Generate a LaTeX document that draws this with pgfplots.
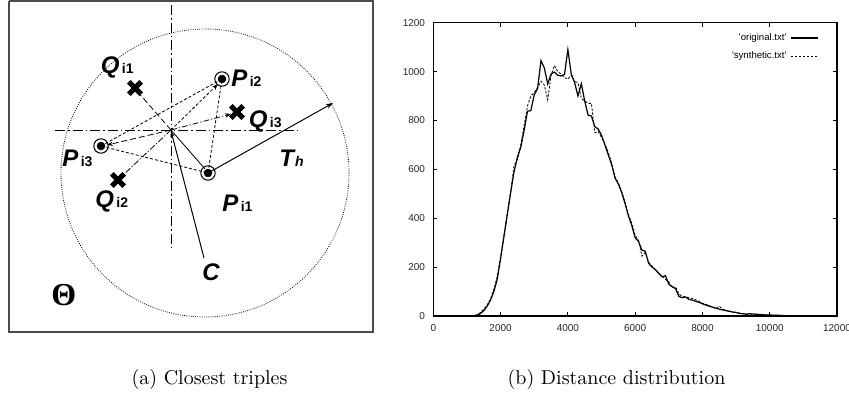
\documentclass[border=0pt]{standalone}
\usepackage{fontspec}
\usepackage{pgfplots}
\usepackage{pgfplotstable}
\pgfplotsset{compat=1.18}
\usetikzlibrary{arrows.meta}
\newfontfamily\arial{Liberation Sans}
\newfontfamily\serifgreek{Liberation Serif}
\newcommand\lab{\arial\bfseries\itshape\fontsize{12}{13}\selectfont}
\newcommand\sub[1]{\hspace{1.2pt}{\upshape\fontsize{7}{8}\selectfont #1}}

% distance histograms, bins of 100
\pgfplotstableread{
x y
1000 0
1100 0
1200 1
1300 3
1400 10
1500 22
1600 40
1700 65
1800 100
1900 150
2000 235
2100 325
2200 415
2300 505
2400 590
2500 650
2600 690
2700 760
2800 838
2900 840
3000 905
3100 930
3200 1045
3300 1015
3400 950
3500 990
3600 998
3700 985
3800 982
3900 988
4000 1090
4100 990
4200 955
4300 900
4400 950
4500 880
4600 822
4700 818
4800 775
4900 765
5000 740
5100 700
5200 660
5300 620
5400 565
5500 540
5600 505
5700 460
5800 410
5900 370
6000 320
6100 305
6200 270
6300 265
6400 215
6500 200
6600 190
6700 175
6800 160
6900 165
7000 130
7100 120
7200 112
7300 80
7400 75
7500 78
7600 68
7700 65
7800 60
7900 56
8000 50
8100 45
8200 40
8300 36
8400 32
8500 28
8600 25
8700 22
8800 19
8900 16
9000 14
9100 11
9200 9
9300 8
9400 9
9500 8
9600 7
9700 6
9800 5
9900 4
10000 4
10200 3
10400 2
10600 1
10800 1
11000 0
}\original

\pgfplotstableread{
x y
1000 0
1100 1
1200 2
1300 5
1400 14
1500 28
1600 45
1700 70
1800 108
1900 162
2000 242
2100 332
2200 422
2300 512
2400 615
2500 640
2600 700
2700 780
2800 860
2900 900
3000 915
3100 935
3200 960
3300 945
3400 885
3500 985
3600 1025
3700 1000
3800 990
3900 975
4000 970
4100 985
4200 960
4300 955
4400 890
4500 880
4600 870
4700 870
4800 750
4900 755
5000 730
5100 705
5200 670
5300 625
5400 570
5500 545
5600 510
5700 465
5800 415
5900 380
6000 330
6100 310
6200 245
6300 260
6400 220
6500 205
6600 190
6700 172
6800 165
6900 150
7000 140
7100 115
7200 120
7300 90
7400 80
7500 78
7600 75
7700 72
7800 66
7900 60
8000 52
8100 48
8200 42
8300 38
8400 30
8500 40
8600 28
8700 24
8800 20
8900 17
9000 15
9100 12
9200 10
9300 6
9400 9
9500 7
9600 8
9700 6
9800 5
9900 4
10000 3
10200 3
10400 2
10600 2
10800 1
11000 1
}\synthetic

\begin{document}
\begin{tikzpicture}
\useasboundingbox (0pt,0pt) rectangle (424.5pt,200.5pt);

% panel (a): sketch drawn in pixel units of the page
\begin{axis}[
    at={(0pt,0pt)}, anchor=south west,
    width=424.5pt, height=200.5pt, scale only axis,
    xmin=0, xmax=849, ymin=0, ymax=401, y dir=reverse,
    hide axis, clip=false,
]
% frame
\addplot[gray!60!black, line width=0.7pt] coordinates {(9,1) (373,1) (373,332) (9,332) (9,1)};
% threshold circle
\draw[line width=0.4pt, dash pattern=on 0.4pt off 0.7pt] (axis cs:205,173) circle[radius=72pt];
% cross hair through C
\addplot[line width=0.5pt, dash pattern=on 5pt off 1.5pt on 0.8pt off 1.5pt] coordinates {(171,5) (171,248)};
\addplot[line width=0.5pt, dash pattern=on 5pt off 1.5pt on 0.8pt off 1.5pt] coordinates {(55,130) (297,130)};
% triangle of P points
\addplot[line width=0.4pt, dash pattern=on 1.5pt off 1pt] coordinates {(101,146) (222,79) (208,173) (101,146)};
% rays from the centre
\addplot[line width=0.4pt, dash pattern=on 3pt off 1.5pt] coordinates {(171,130) (137,91)};
\addplot[line width=0.4pt, dash pattern=on 1.5pt off 1pt, -{Stealth[length=3pt,width=2.2pt]}] coordinates {(171,130) (218,84)};
\addplot[line width=0.4pt, dash pattern=on 3pt off 1pt on 0.6pt off 1pt, -{Stealth[length=3pt,width=2.2pt]}] coordinates {(171,130) (231,114)};
\addplot[line width=0.4pt, dash pattern=on 3pt off 1.5pt, -{Stealth[length=3pt,width=2.2pt]}] coordinates {(171,130) (107,145)};
\addplot[line width=0.4pt, dash pattern=on 3pt off 1pt on 0.6pt off 1pt] coordinates {(171,130) (121,177)};
\addplot[line width=0.4pt] coordinates {(171,130) (205,169)};
\addplot[line width=0.5pt, -{Stealth[length=3pt,width=2.2pt]}] coordinates {(204,258) (171,131)};
\addplot[line width=0.5pt, -{Stealth[length=3.5pt,width=2.5pt]}] coordinates {(208,173) (333,103)};
% points
\addplot[only marks, mark=o, mark size=3.6pt, mark options={line width=0.5pt, fill=white}] coordinates {(222,79) (208,173) (101,146)};
\addplot[only marks, mark=*, mark size=1.9pt] coordinates {(222,79) (208,173) (101,146)};
\addplot[only marks, mark=x, mark size=4.4pt, mark options={line width=2.5pt}] coordinates {(135,88) (237,112) (118,180)};
% labels
\node[anchor=base west, inner sep=0pt] at (axis cs:100.5,74) {\lab Q\sub{i1}};
\node[anchor=base west, inner sep=0pt] at (axis cs:231,86) {\lab P\sub{i2}};
\node[anchor=base west, inner sep=0pt] at (axis cs:248.5,127.3) {\lab Q\sub{i3}};
\node[anchor=base west, inner sep=0pt] at (axis cs:62,166.7) {\lab P\sub{i3}};
\node[anchor=base west, inner sep=0pt] at (axis cs:279,166.7) {\lab T\hspace{0.5pt}{\fontsize{7}{8}\selectfont h}};
\node[anchor=base west, inner sep=0pt] at (axis cs:95,207) {\lab Q\sub{i2}};
\node[anchor=base west, inner sep=0pt] at (axis cs:222,211.7) {\lab P\sub{i1}};
\node[anchor=base west, inner sep=0pt] at (axis cs:202,280) {\lab C};
\node[anchor=base west, inner sep=0pt] at (axis cs:51,305) {\serifgreek\bfseries\fontsize{16}{17}\selectfont Θ};
% captions
\node[anchor=base, inner sep=0pt] at (axis cs:209.5,384) {(a)\ Closest triples};
\node[anchor=base, inner sep=0pt] at (axis cs:616.5,384) {(b)\ Distance distribution};
\end{axis}

% panel (b): distance distribution
\begin{axis}[
    at={(216.65pt,42.5pt)}, anchor=south west,
    width=201.85pt, height=146.65pt, scale only axis,
    xmin=0, xmax=12000, ymin=0, ymax=1200,
    xtick={0,2000,...,12000}, ytick={0,200,...,1200},
    scaled x ticks=false, scaled y ticks=false,
    xtick pos=both, ytick pos=both,
    tick align=inside, major tick length=2pt,
    axis line style={line width=0.6pt},
    every tick/.style={black, line width=0.5pt},
    tick label style={font=\arial\fontsize{5}{5.5}\selectfont, text=black!85},
    xticklabel style={yshift=-0.6pt},
    yticklabel style={xshift=-0.6pt},
    /pgf/number format/assume math mode=true,
    /pgf/number format/1000 sep={},
    legend style={at={(1,1)}, anchor=north east, xshift=-9pt, yshift=-3pt,
        draw=none, fill=none, inner sep=0pt, row sep=0.3pt,
        font=\arial\fontsize{4.8}{5.2}\selectfont},
    legend cell align=right, legend plot pos=right,
    legend image code/.code={\draw[#1] (0pt,0pt) -- (13.5pt,0pt);},
]
\addplot[black, line width=0.6pt] table[x=x, y=y] {\original};
\addplot[black, line width=0.4pt, dash pattern=on 1.2pt off 0.8pt] table[x=x, y=y] {\synthetic};
\legend{'original.txt', 'synthetic.txt'}
\end{axis}
\end{tikzpicture}
\end{document}
